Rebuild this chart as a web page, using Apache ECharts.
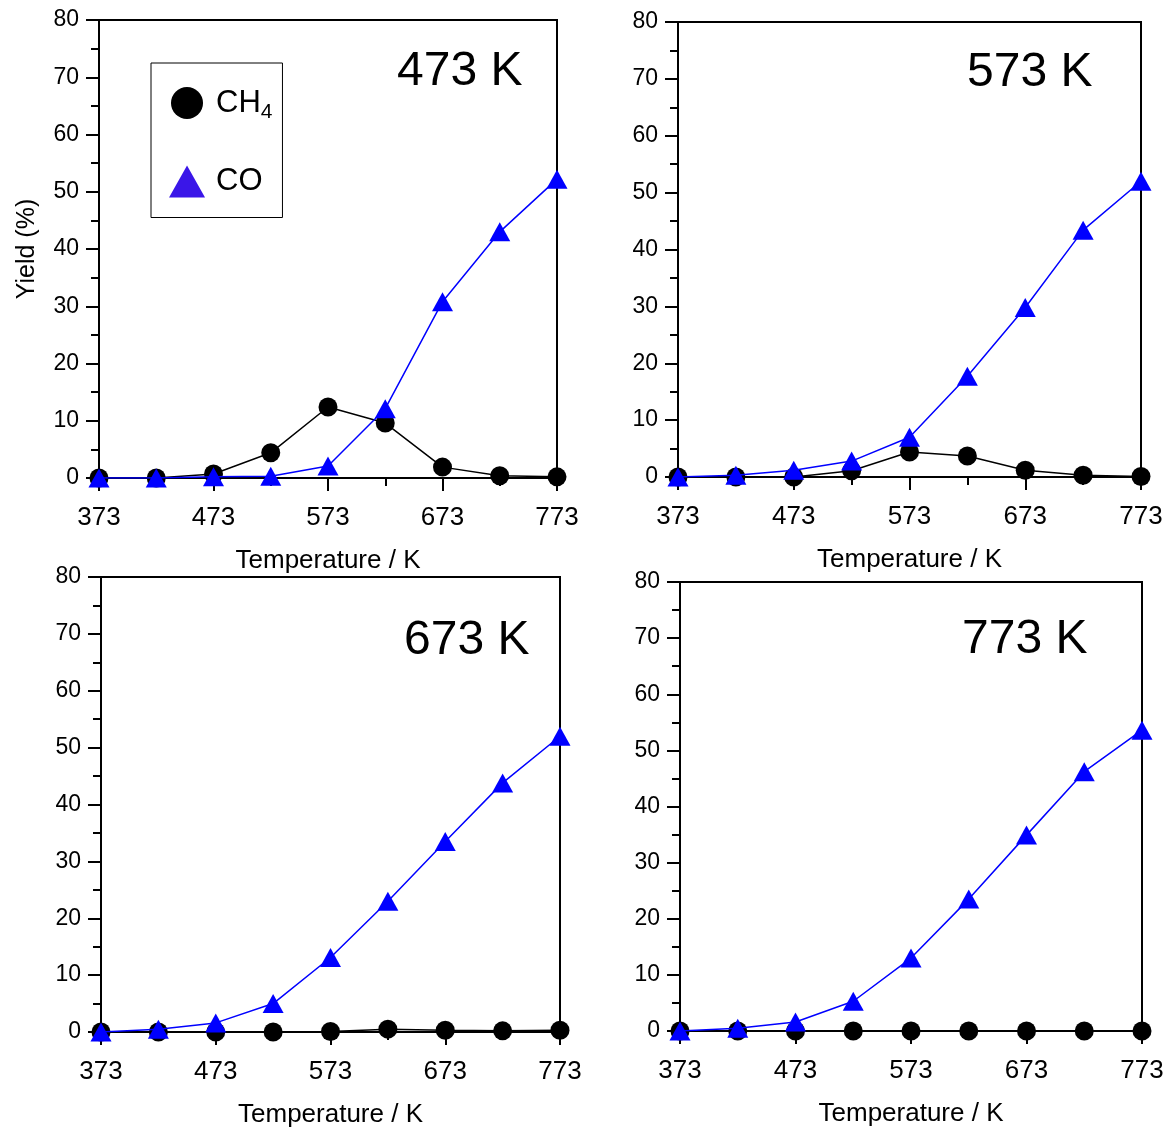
<!DOCTYPE html>
<html>
<head>
<meta charset="utf-8">
<script src="https://cdn.jsdelivr.net/npm/echarts@6/dist/echarts.min.js"></script>
<style>
  html, body { margin: 0; padding: 0; background: #fff; }
</style>
</head>
<body>
<div id="myChart" style="width:1167px;height:1129px;"></div>
<script>
// reaction temperatures on the x axis (K)
const temps = [373, 423, 473, 523, 573, 623, 673, 723, 773];

// yields (%) per panel
const ch4_473 = [0, 0, 0.7, 4.4, 12.4, 9.6, 1.9, 0.4, 0.2];
const co_473  = [0, 0, 0.2, 0.3, 2.1, 12.1, 30.8, 43.0, 52.2];

const ch4_573 = [0, 0, 0, 1.1, 4.4, 3.7, 1.2, 0.3, 0.1];
const co_573  = [0, 0.3, 1.2, 2.8, 7.0, 17.7, 29.8, 43.4, 52.0];

const ch4_673 = [0, 0, 0, 0, 0.1, 0.5, 0.3, 0.2, 0.3];
const co_673  = [0, 0.5, 1.6, 5.0, 13.1, 23.0, 33.5, 43.8, 52.0];

const ch4_773 = [0, 0, 0, 0, 0, 0, 0, 0, 0];
const co_773  = [0, 0.5, 1.6, 5.3, 13.0, 23.5, 34.9, 46.2, 53.6];

const panelLabels = ['473 K', '573 K', '673 K', '773 K'];

const font = 'Liberation Sans, Arial, sans-serif';
const panels = [
  { ch4: ch4_473, co: co_473 },
  { ch4: ch4_573, co: co_573 },
  { ch4: ch4_673, co: co_673 },
  { ch4: ch4_773, co: co_773 }
];

// grid boxes (px)
const grids = [
  { left: 99, top: 20, width: 458, height: 458 },
  { left: 678, top: 22, width: 463, height: 455 },
  { left: 101, top: 577, width: 459, height: 458 },
  { left: 680, top: 582, width: 462, height: 449 }
];
const titlePos = [
  { left: 397, top: 48 },
  { left: 967, top: 49 },
  { left: 404, top: 617 },
  { left: 962, top: 616 }
];

let myChart = echarts.init(document.getElementById('myChart'));

const pairs = (vals) => temps.map((t, i) => [t, vals[i]]);

let series = [];
panels.forEach((p, i) => {
  series.push({
    name: 'CH4',
    type: 'line',
    xAxisIndex: i,
    yAxisIndex: i,
    data: pairs(p.ch4),
    symbol: 'circle',
    symbolSize: 19,
    lineStyle: { color: '#000', width: 1.5 },
    itemStyle: { color: '#000' },
    z: 2
  });
  series.push({
    name: 'CO',
    type: 'line',
    xAxisIndex: i,
    yAxisIndex: i,
    data: pairs(p.co),
    symbol: 'triangle',
    symbolSize: [21, 19],
    lineStyle: { color: '#0000ff', width: 1.5 },
    itemStyle: { color: '#0000ff' },
    z: 3
  });
});

myChart.setOption({
  animation: false,
  textStyle: { fontFamily: font, color: '#000' },
  title: panelLabels.map((t, i) => ({
    text: t,
    left: titlePos[i].left,
    top: titlePos[i].top,
    padding: 0,
    textStyle: { fontSize: 48, fontWeight: 'normal', color: '#000', fontFamily: font }
  })),
  legend: {
    left: 151,
    top: 63,
    orient: 'vertical',
    selectedMode: false,
    borderColor: '#000',
    borderWidth: 1,
    padding: [24, 10, 20, 18],
    itemWidth: 36,
    itemHeight: 32,
    itemGap: 43,
    data: [
      { name: 'CH4', icon: 'circle', itemStyle: { color: '#000' } },
      { name: 'CO', icon: 'triangle', itemStyle: { color: '#3a16e8' } }
    ],
    formatter: (name) => name === 'CH4' ? '{a|CH}{s|4}' : '{a|CO}',
    textStyle: {
      fontFamily: font,
      rich: {
        a: { fontSize: 31, color: '#000', fontFamily: font, padding: [0, 0, 0, 6] },
        s: { fontSize: 21, color: '#000', fontFamily: font, padding: [18, 0, 0, 0] }
      }
    }
  },
  grid: grids.map(g => Object.assign({
    show: true,
    borderColor: '#000',
    borderWidth: 2,
    containLabel: false
  }, g)),
  xAxis: grids.map((g, i) => ({
    type: 'value',
    gridIndex: i,
    min: 373,
    max: 773,
    interval: 100,
    name: 'Temperature / K',
    nameLocation: 'middle',
    nameGap: 70,
    nameTextStyle: { fontSize: 26, color: '#000', fontFamily: font },
    axisLine: { lineStyle: { color: '#000', width: 2 } },
    axisTick: { inside: false, length: 13, lineStyle: { color: '#000', width: 2 } },
    minorTick: { show: true, splitNumber: 2, length: 8, lineStyle: { color: '#000', width: 2 } },
    axisLabel: {
      margin: 27,
      fontSize: 26,
      color: '#000',
      fontFamily: font,
      showMinLabel: true,
      showMaxLabel: true
    },
    splitLine: { show: false }
  })),
  yAxis: grids.map((g, i) => ({
    type: 'value',
    gridIndex: i,
    min: 0,
    max: 80,
    interval: 10,
    name: i === 0 ? 'Yield (%)' : '',
    nameLocation: 'middle',
    nameGap: 59,
    nameTextStyle: { fontSize: 25, color: '#000', fontFamily: font },
    axisLine: { lineStyle: { color: '#000', width: 2 } },
    axisTick: { inside: false, length: 13, lineStyle: { color: '#000', width: 2 } },
    minorTick: { show: true, splitNumber: 2, length: 8, lineStyle: { color: '#000', width: 2 } },
    axisLabel: { margin: 20, fontSize: 23, color: '#000', fontFamily: font },
    splitLine: { show: false }
  })),
  series: series
});
</script>
</body>
</html>
